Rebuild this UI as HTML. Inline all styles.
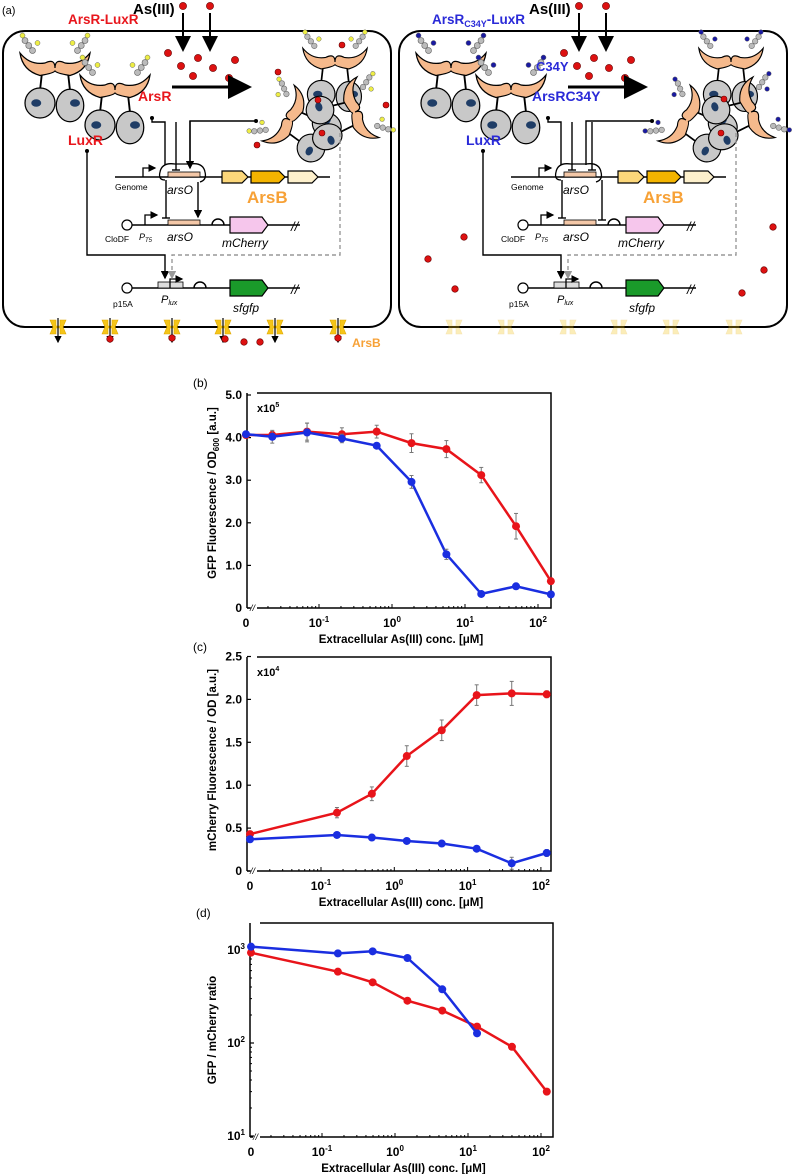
<!DOCTYPE html>
<html><head><meta charset="utf-8"><style>
html,body{margin:0;padding:0;background:#fff}
svg{display:block;font-family:"Liberation Sans",Arial,sans-serif}
</style></head><body>
<svg id="fig" width="792" height="1174" viewBox="0 0 792 1174" xmlns="http://www.w3.org/2000/svg">
<defs>
<marker id="ah" markerWidth="6" markerHeight="6" refX="5" refY="3" orient="auto"><path d="M0,0 L6,3 L0,6 z" fill="#000"/></marker>
<marker id="ahg" markerWidth="6" markerHeight="6" refX="5" refY="3" orient="auto"><path d="M0,0 L6,3 L0,6 z" fill="#999"/></marker>
<marker id="ahb" markerWidth="8" markerHeight="8" refX="6" refY="4" orient="auto"><path d="M0,0 L8,4 L0,8 z" fill="#000"/></marker>
</defs>
<g id="schem"></g>
<g id="charts"></g>
</svg>
<script>
const NS="http://www.w3.org/2000/svg";
function E(parent,tag,attrs,text){const e=document.createElementNS(NS,tag);for(const k in attrs)e.setAttribute(k,attrs[k]);if(text!==undefined)e.textContent=text;parent.appendChild(e);return e;}
const S=document.getElementById('schem');

/* ---------- schematic panels ---------- */
function protein(g,cx,cy,rot,mut,sc){
  const p=E(g,'g',{transform:`translate(${cx},${cy}) rotate(${rot}) scale(${sc||1.25})`});
  
  
  E(p,'line',{x1:-10,y1:0,x2:-12,y2:18,stroke:'#000','stroke-width':1.5});
  E(p,'line',{x1:10,y1:0,x2:12,y2:18,stroke:'#000','stroke-width':1.5});
  E(p,'ellipse',{cx:-12,cy:28,rx:12,ry:12,fill:'#c8c8c8',stroke:'#000','stroke-width':1});
  E(p,'ellipse',{cx:12,cy:30,rx:11,ry:13,fill:'#c8c8c8',stroke:'#000','stroke-width':1});
  E(p,'ellipse',{cx:-15,cy:28,rx:4,ry:3,fill:'#1f3d66'});
  E(p,'ellipse',{cx:16,cy:28,rx:4,ry:3,fill:'#1f3d66'});
  E(p,'path',{d:'M-28,-12 Q-20,-2 -8,-4 Q0,-8 0,0 Q0,-8 8,-4 Q20,-2 28,-12 Q26,2 12,6 Q0,4 0,2 Q0,4 -12,6 Q-26,2 -28,-12 z',fill:'#f5b98c',stroke:'#000','stroke-width':1});
  for(const s of [-1,1]){
    for(let i=0;i<3;i++){E(p,'circle',{cx:s*(18+i*3),cy:-14-i*4,r:2.4,fill:'#bbb',stroke:'#666','stroke-width':0.5});}
    E(p,'circle',{cx:s*26,cy:-26,r:2,fill:mut?'#1a1aa0':'#ee4',stroke:'#666','stroke-width':0.4});
    E(p,'circle',{cx:s*14,cy:-20,r:2,fill:mut?'#1a1aa0':'#ee4',stroke:'#666','stroke-width':0.4});
  }
}
function dot(g,x,y,r){const c=E(g,'circle',{cx:x,cy:y,r:r||3.6,fill:'#d11',stroke:'#600','stroke-width':0.6});}
function panel(ox,mut){
  const g=E(S,'g',{transform:`translate(${ox},0)`});
  
  
  const col=mut?'#2a2ad8':'#e8161c';
  E(g,'rect',{x:3,y:31,width:388,height:296,rx:22,fill:'none',stroke:'#000','stroke-width':2});
  E(g,'text',{x:133,y:14,'font-size':15,'font-weight':'bold'},'As(III)');
  dot(g,183,6);dot(g,210,6);
  E(g,'line',{x1:183,y1:13,x2:183,y2:48,stroke:'#000','stroke-width':2,'marker-end':'url(#ahb)'});
  E(g,'line',{x1:210,y1:13,x2:210,y2:48,stroke:'#000','stroke-width':2,'marker-end':'url(#ahb)'});
  for(const [x,y] of [[168,53],[198,58],[235,60],[181,66],[213,68],[193,76],[229,78]])dot(g,x,y);
  E(g,'line',{x1:172,y1:87,x2:246,y2:87,stroke:'#000','stroke-width':3,'marker-end':'url(#ahb)'});
  const t=E(g,'text',{x:mut?36:68,y:24,'font-size':13.5,'font-weight':'bold',fill:col});
  if(mut){t.textContent='ArsR';E(t,'tspan',{'font-size':9,dy:3},'C34Y');E(t,'tspan',{dy:-3},'-LuxR');}else t.textContent='ArsR-LuxR';
  protein(g,55,68,0,mut);protein(g,115,90,0,mut);
  protein(g,335,62,0,mut,1.15);protein(g,290,120,-60,mut,1.15);protein(g,355,112,70,mut,1.15);
  if(!mut){for(const [x,y] of [[342,45],[278,72],[386,105],[257,145],[318,100],[322,133]])dot(g,x,y,3);}
  else{for(const [x,y] of [[328,99],[325,133]])dot(g,x,y,3);}
  E(g,'text',{x:mut?136:138,y:101,'font-size':14,'font-weight':'bold',fill:col},mut?'ArsRC34Y':'ArsR');
  if(mut)E(g,'text',{x:140,y:71,'font-size':13,'font-weight':'bold',fill:col},'C34Y');
  E(g,'text',{x:mut?70:68,y:145,'font-size':14,'font-weight':'bold',fill:col},'LuxR');
  E(g,'circle',{cx:152,cy:118,r:2,fill:'#000'});
  E(g,'polyline',{points:'152,118 152,122 165,122 165,165',fill:'none',stroke:'#000','stroke-width':1.4});
  E(g,'circle',{cx:256,cy:121,r:2,fill:'#000'});
  E(g,'polyline',{points:'256,121 190,121 190,165',fill:'none',stroke:'#000','stroke-width':1.4});
  E(g,'line',{x1:176,y1:122,x2:176,y2:170,stroke:'#000','stroke-width':1.4});
  E(g,'line',{x1:172,y1:170,x2:180,y2:170,stroke:'#000','stroke-width':1.4});
  if(!mut){E(g,'line',{x1:190,y1:121,x2:190,y2:168,stroke:'#000','stroke-width':1.4,'marker-end':'url(#ah)'});
    E(g,'line',{x1:198,y1:182,x2:198,y2:217,stroke:'#000','stroke-width':1.4,'marker-end':'url(#ah)'});}
  else{E(g,'line',{x1:196,y1:122,x2:196,y2:170,stroke:'#000','stroke-width':1.4});E(g,'line',{x1:192,y1:170,x2:200,y2:170,stroke:'#000','stroke-width':1.4});
    E(g,'line',{x1:206,y1:180,x2:206,y2:220,stroke:'#000','stroke-width':1.4});E(g,'line',{x1:202,y1:220,x2:210,y2:220,stroke:'#000','stroke-width':1.4});}
  E(g,'line',{x1:166,y1:180,x2:166,y2:218,stroke:'#000','stroke-width':1.4});
  E(g,'line',{x1:162,y1:218,x2:170,y2:218,stroke:'#000','stroke-width':1.4});
  E(g,'path',{d:'M165,180 Q158,180 160,172 Q162,162 175,164 L190,164 Q203,162 205,172 Q207,180 200,182',fill:'none',stroke:'#000','stroke-width':1.3});
  E(g,'line',{x1:115,y1:177,x2:330,y2:177,stroke:'#000','stroke-width':1.5});
  E(g,'polyline',{points:'143,177 143,168 155,168',fill:'none',stroke:'#000','stroke-width':1.3,'marker-end':'url(#ah)'});
  E(g,'rect',{x:168,y:172,width:32,height:5,fill:'#f4c8a8',stroke:'#000','stroke-width':0.8});
  E(g,'text',{x:115,y:190,'font-size':8.5},'Genome');
  E(g,'text',{x:167,y:194,'font-size':12,'font-style':'italic'},'arsO');
  const gene=(x,w,fill)=>E(g,'path',{d:`M${x},171 h${w-6} l6,6 l-6,6 h-${w-6} z`,fill,stroke:'#000','stroke-width':1.2});
  gene(222,26,'#fcd77a');gene(251,34,'#f4b400');gene(288,30,'#fdf0cc');
  E(g,'text',{x:247,y:203,'font-size':17,'font-weight':'bold',fill:'#f7a136'},'ArsB');
  E(g,'circle',{cx:127,cy:225,r:5,fill:'#fff',stroke:'#000','stroke-width':1.2});
  E(g,'line',{x1:132,y1:225,x2:300,y2:225,stroke:'#000','stroke-width':1.5});
  E(g,'polyline',{points:'145,225 145,215 157,215',fill:'none',stroke:'#000','stroke-width':1.3,'marker-end':'url(#ah)'});
  E(g,'rect',{x:168,y:220,width:32,height:5,fill:'#f4c8a8',stroke:'#000','stroke-width':0.8});
  E(g,'path',{d:'M212,225 a6,6 0 0 1 12,0',fill:'none',stroke:'#000','stroke-width':1.5});
  E(g,'path',{d:'M230,217 h32 l6,8 l-6,8 h-32 z',fill:'#f6c6ec',stroke:'#000','stroke-width':1.2});
  E(g,'text',{x:291,y:231,'font-size':13,'font-style':'italic'},'//');
  E(g,'text',{x:105,y:242,'font-size':8.5},'CloDF');
  const pt=E(g,'text',{x:139,y:240,'font-size':9,'font-style':'italic'},'P');E(pt,'tspan',{'font-size':6,dy:2},'T5');
  E(g,'text',{x:167,y:241,'font-size':12,'font-style':'italic'},'arsO');
  E(g,'text',{x:222,y:247,'font-size':12,'font-style':'italic'},'mCherry');
  E(g,'circle',{cx:127,cy:288,r:5,fill:'#fff',stroke:'#000','stroke-width':1.2});
  E(g,'line',{x1:132,y1:288,x2:300,y2:288,stroke:'#000','stroke-width':1.5});
  E(g,'rect',{x:158,y:282,width:25,height:6,fill:'#ddd',stroke:'#000','stroke-width':0.8});
  E(g,'polyline',{points:'170,288 170,279 182,279',fill:'none',stroke:'#000','stroke-width':1.3,'marker-end':'url(#ah)'});
  E(g,'path',{d:'M194,288 a6,6 0 0 1 12,0',fill:'none',stroke:'#000','stroke-width':1.5});
  E(g,'path',{d:'M230,280 h32 l6,8 l-6,8 h-32 z',fill:'#1a9a2a',stroke:'#000','stroke-width':1.2});
  E(g,'text',{x:291,y:294,'font-size':13,'font-style':'italic'},'//');
  E(g,'text',{x:113,y:307,'font-size':8.5},'p15A');
  const pl=E(g,'text',{x:161,y:303,'font-size':11,'font-style':'italic'},'P');E(pl,'tspan',{'font-size':7,dy:2},'lux');
  E(g,'text',{x:233,y:312,'font-size':12,'font-style':'italic'},'sfgfp');
  E(g,'circle',{cx:87,cy:151,r:2,fill:'#000'});
  E(g,'polyline',{points:'87,151 87,255 165,255 165,278',fill:'none',stroke:'#000','stroke-width':1.4,'marker-end':'url(#ah)'});
  E(g,'polyline',{points:'340,133 340,255 172,255 172,278',fill:'none',stroke:'#999','stroke-width':1.4,'stroke-dasharray':'4,3','marker-end':'url(#ahg)'});
  const op=mut?0.3:1;
  for(const x of [58,110,172,223,275,338]){
    const tg=E(g,'g',{opacity:op});
    
    
    E(tg,'path',{d:`M${x-8},320 h6 v6 h4 v-6 h6 l-3,7 l3,7 h-6 v-6 h-4 v6 h-6 l3,-7 z`,fill:'#f5c518',stroke:'#e0a800','stroke-width':0.6});
    if(!mut)E(g,'line',{x1:x,y1:318,x2:x,y2:342,stroke:'#000','stroke-width':1.2,'marker-end':'url(#ah)'});
  }
  if(!mut){
    for(const [x,y] of [[110,339],[172,338],[225,339],[244,342],[260,342],[338,338]])dot(g,x,y,3.3);
    E(g,'text',{x:352,y:347,'font-size':12,'font-weight':'bold',fill:'#f7a136'},'ArsB');
  } else {
    for(const [x,y] of [[68,237],[32,259],[59,289],[377,227],[368,270],[346,293]])dot(g,x,y,3.3);
  }
}
E(S,'text',{x:2,y:14,'font-size':11},'(a)');
panel(0,false);panel(396,true);

/* ---------- chart data ---------- */
const concB=[0,0.0229,0.0686,0.206,0.617,1.85,5.56,16.7,50,150];
const gfpWT=[4.06,4.06,4.14,4.08,4.14,3.87,3.73,3.12,1.92,0.63];
const gfpWTerr=[0.05,0.08,0.2,0.15,0.15,0.22,0.2,0.18,0.3,0.05];
const gfpMut=[4.08,4.02,4.12,3.98,3.81,2.96,1.26,0.33,0.51,0.32];
const gfpMuterr=[0.03,0.15,0.22,0.1,0.05,0.15,0.12,0.04,0.05,0.04];
const concC=[0,0.165,0.494,1.48,4.44,13.3,40,120];
const mchWT=[0.43,0.68,0.90,1.34,1.64,2.05,2.07,2.06];
const mchWTerr=[0.02,0.06,0.08,0.12,0.12,0.12,0.14,0.04];
const mchMut=[0.37,0.42,0.39,0.35,0.32,0.26,0.09,0.21];
const mchMuterr=[0.02,0.02,0.02,0.02,0.02,0.02,0.07,0.04];
const ratioWT=[936,585,449,285,223,150,91,30];
const ratioMut=[1086,920,968,820,378,127];
const xTickLabels=['0','10','10','10','10'];
const xTickExp=[null,'-1','0','1','2'];
const xTickVals=[0,0.1,1,10,100];
const yTicksB=[0,1,2,3,4,5];
const yTickLabelsB=['0','1.0','2.0','3.0','4.0','5.0'];
const yTicksC=[0,0.5,1,1.5,2,2.5];
const yTickLabelsC=['0','0.5','1.0','1.5','2.0','2.5'];
const yTicksD=[10,100,1000];
const yTickExpD=['1','2','3'];

const C=document.getElementById('charts');
function chart(cfg){
  const g=E(C,'g',{});
  
  
  const X=v=>v===0?cfg.x0:cfg.xm1+(Math.log10(v)+1)*cfg.dec;
  const Y=cfg.Y;
  E(g,'line',{x1:cfg.left,y1:cfg.top,x2:cfg.left,y2:cfg.bottom,stroke:'#000','stroke-width':1.5});
  E(g,'polyline',{points:`${cfg.left+10},${cfg.top} ${cfg.right},${cfg.top} ${cfg.right},${cfg.bottom} ${cfg.left+10},${cfg.bottom}`,fill:'none',stroke:'#000','stroke-width':1.5});
  E(g,'line',{x1:cfg.left,y1:cfg.bottom,x2:cfg.left+3,y2:cfg.bottom,stroke:'#000','stroke-width':1.5});
  E(g,'text',{x:cfg.left+3,y:cfg.bottom+3,'font-size':9,'font-style':'italic'},'//');
  for(let d=-1;d<=2;d++){for(let m=1;m<10;m++){const v=m*Math.pow(10,d);const x=X(v);if(x>cfg.right||x<cfg.left+12)continue;
    E(g,'line',{x1:x,y1:cfg.bottom,x2:x,y2:cfg.bottom-(m===1?4:2),stroke:'#000','stroke-width':1});}}
  for(let d=-2;d<-1;d++){for(let m=2;m<10;m++){const x=X(m*Math.pow(10,d));if(x>cfg.left+12)E(g,'line',{x1:x,y1:cfg.bottom,x2:x,y2:cfg.bottom-2,stroke:'#000'});}}
  xTickVals.forEach((v,i)=>{
    const t=E(g,'text',{x:X(v),y:cfg.bottom+19,'font-size':12,'font-weight':'bold','text-anchor':'middle'});
    
    
    t.textContent=xTickLabels[i];
    if(xTickExp[i])E(t,'tspan',{'font-size':8,dy:-5},xTickExp[i]);
  });
  const xt=E(g,'text',{x:(cfg.left+cfg.right)/2+2,y:cfg.bottom+35,'font-size':11.5,'font-weight':'bold','text-anchor':'middle'},'Extracellular As(III) conc. [μM]');
  
  
  cfg.yt.forEach((v,i)=>{
    const y=Y(v);
    E(g,'line',{x1:cfg.left,y1:y,x2:cfg.left+4,y2:y,stroke:'#000','stroke-width':1.2});
    const t=E(g,'text',{x:cfg.left-5,y:y+4,'font-size':12,'font-weight':'bold','text-anchor':'end'});
    
    
    if(cfg.ylog){t.textContent='10';E(t,'tspan',{'font-size':8,dy:-5},cfg.ylab[i]);}else t.textContent=cfg.ylab[i];
  });
  if(cfg.minorY)cfg.minorY.forEach(v=>E(g,'line',{x1:cfg.left,y1:Y(v),x2:cfg.left+2,y2:Y(v),stroke:'#000'}));
  const yt=E(g,'text',{transform:`translate(${cfg.ytx},${cfg.yty}) rotate(-90)`,'font-size':11.5,'font-weight':'bold','text-anchor':'middle'});
  
  
  cfg.ytitle(yt);
  E(g,'text',{x:cfg.left-54,y:cfg.top-6,'font-size':12},cfg.label);
  if(cfg.mult){const m=E(g,'text',{x:cfg.left+10,y:cfg.top+19,'font-size':11,'font-weight':'bold'},'x10');E(m,'tspan',{'font-size':7,dy:-5},cfg.mult);}
  cfg.series.forEach(s=>{
    const pts=s.y.map((v,i)=>X(s.x[i]).toFixed(1)+','+Y(v).toFixed(1)).join(' ');
    const l=E(g,'polyline',{points:pts,fill:'none',stroke:s.color,'stroke-width':2.5});
    
    
    s.y.forEach((v,i)=>{
      if(s.err){const x=X(s.x[i]),y1=Y(v-s.err[i]),y2=Y(v+s.err[i]);
        E(g,'line',{x1:x,y1:y1,x2:x,y2:y2,stroke:'#777','stroke-width':1});
        E(g,'line',{x1:x-2,y1:y1,x2:x+2,y2:y1,stroke:'#777','stroke-width':1});
        E(g,'line',{x1:x-2,y1:y2,x2:x+2,y2:y2,stroke:'#777','stroke-width':1});}
      const c=E(g,'circle',{cx:X(s.x[i]),cy:Y(v),r:4,fill:s.color});
      
      
    });
  });
}
const RED='#e8141a',BLUE='#1a2ee0';
chart({name:'chart-b-gfp',label:'(b)',left:247,right:551,top:393,bottom:608,x0:246,xm1:319,dec:73,
  Y:v=>608-v*42.6,yt:yTicksB,ylab:yTickLabelsB,mult:'5',ytx:216,yty:493,
  ytitle:t=>{t.textContent='GFP Fluorescence / OD';E(t,'tspan',{'font-size':8,dy:3},'600');E(t,'tspan',{dy:-3},' [a.u.]');},
  series:[{name:'gfp-wt',color:RED,x:concB,y:gfpWT,err:gfpWTerr},{name:'gfp-c34y',color:BLUE,x:concB,y:gfpMut,err:gfpMuterr}]});
chart({name:'chart-c-mcherry',label:'(c)',left:247,right:551,top:657,bottom:871,x0:250,xm1:321,dec:73.3,
  Y:v=>871-v*85.8,yt:yTicksC,ylab:yTickLabelsC,mult:'4',ytx:216,yty:760,
  ytitle:t=>{t.textContent='mCherry Fluorescence / OD [a.u.]';},
  series:[{name:'mcherry-wt',color:RED,x:concC,y:mchWT,err:mchWTerr},{name:'mcherry-c34y',color:BLUE,x:concC,y:mchMut,err:mchMuterr}]});
const minD=[];for(let d=1;d<3;d++)for(let m=2;m<10;m++)minD.push(m*Math.pow(10,d));
chart({name:'chart-d-ratio',label:'(d)',left:250,right:553,top:923,bottom:1137,x0:251,xm1:322,dec:73,ylog:true,
  Y:v=>950-(Math.log10(v)-3)*93,yt:yTicksD,ylab:yTickExpD,minorY:minD,ytx:216,yty:1030,
  ytitle:t=>{t.textContent='GFP / mCherry ratio';},
  series:[{name:'ratio-wt',color:RED,x:concC,y:ratioWT},{name:'ratio-c34y',color:BLUE,x:concC.slice(0,6),y:ratioMut}]});
</script>
</body></html>
